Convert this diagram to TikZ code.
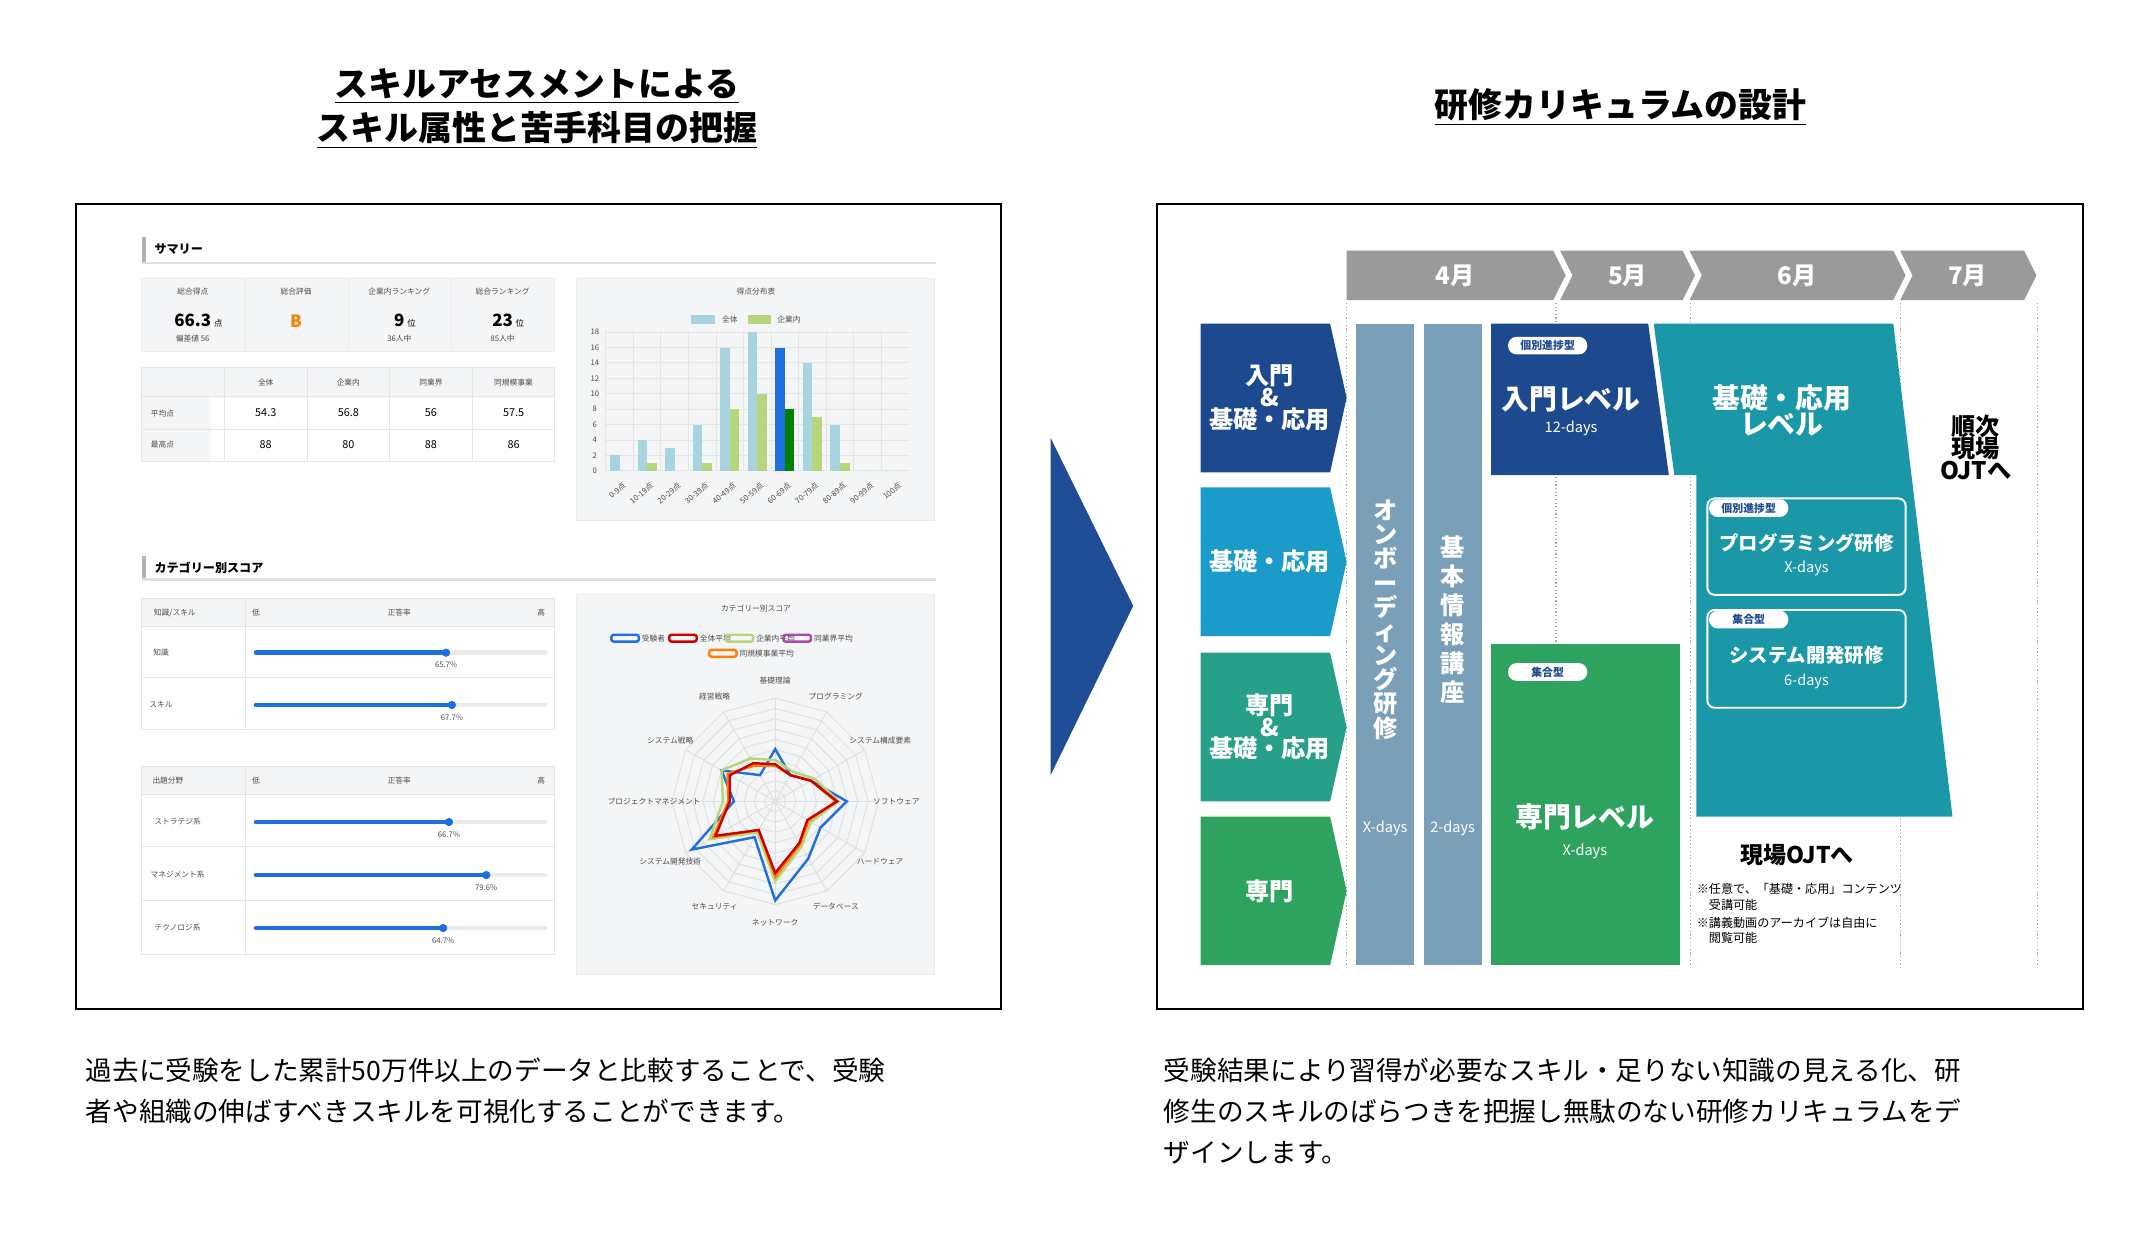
\documentclass[tikz,border=0pt]{standalone}
\usepackage{fontspec}
\setmainfont{Noto Sans CJK JP}
\usetikzlibrary{positioning}
\definecolor{navyC}{HTML}{1D4A8F}
\definecolor{skyC}{HTML}{1A9BC9}
\definecolor{tealC}{HTML}{1A98A8}
\definecolor{tgreenC}{HTML}{27A08A}
\definecolor{greenC}{HTML}{2EA35F}
\definecolor{barC}{HTML}{7A9FB8}
\definecolor{monthC}{HTML}{9A9A9A}
\definecolor{arrowC}{HTML}{1F4E96}
\definecolor{panelC}{HTML}{F4F5F6}
\definecolor{lblueC}{HTML}{A8D4E0}
\definecolor{lgreenC}{HTML}{B5D67A}
\definecolor{sliderC}{HTML}{1F6FE0}
\tikzstyle{ttl}=[font=\bfseries\fontsize{14}{20}\selectfont, align=center]
\tikzstyle{para}=[font=\fontsize{11}{17}\selectfont, align=left, anchor=north west, inner sep=0pt]
\tikzstyle{frame}=[draw=black, line width=0.8pt]
\tikzstyle{wlbl}=[text=white, font=\bfseries\fontsize{10}{13}\selectfont, align=center]
\tikzstyle{wsub}=[text=white, font=\fontsize{6}{8}\selectfont]
\tikzstyle{tagbox}=[fill=white, rounded corners=3.5pt, inner sep=1.5pt, minimum width=1.15cm, text=navyC, font=\bfseries\fontsize{4.5}{5}\selectfont]
\tikzstyle{vline}=[gray!70, densely dotted, line width=0.5pt]
\tikzstyle{tinylbl}=[font=\fontsize{3.2}{4}\selectfont, text=black!70, inner sep=0.5pt]
\tikzstyle{small}=[font=\fontsize{4.5}{5}\selectfont, inner sep=0.5pt]
\tikzstyle{card}=[fill=panelC, draw=black!8]
\def\wlbl{\node[style=wlbl]}
\def\tlbl{\node[style=tinylbl]}
\newcommand{\ptunit}[1]{\rlap{\,\fontsize{3.5}{4}\selectfont\mdseries #1}}
\newcommand{\catchev}[3]{\fill[#3] (872,#1) -- (966,#1) -- (978,{(#1+#2)/2}) -- (966,#2) -- (872,#2) -- cycle;}
\newcommand{\monthseg}[3]{\fill[monthC] (#1,182) -- (#2,182) -- ({#2+9},200) -- (#2,218) -- (#1,218) #3 -- cycle;}
\begin{document}
\begin{tikzpicture}[x=0.02cm, y=-0.02cm]
      \useasboundingbox (0,0) rectangle (1560,900);
      % titles
      \node[style=ttl] (Ltitle) at (390,79) {\underline{スキルアセスメントによる}\\[-2pt]\underline{スキル属性と苦手科目の把握}};
      \node[style=ttl] (Rtitle) at (1177,78) {\underline{研修カリキュラムの設計}};
      % frames
      \draw[style=frame] (55,148) rectangle (727,733);
      \draw[style=frame] (840,148) rectangle (1513,733);
      \fill[arrowC] (763,318) -- (823,440) -- (763,563) -- cycle;
      % captions
      \node[style=para] (Ltext) at (62,768) {過去に受験をした累計50万件以上のデータと比較することで、受験\\者や組織の伸ばすべきスキルを可視化することができます。};
      \node[style=para] (Rtext) at (845,768) {受験結果により習得が必要なスキル・足りない知識の見える化、研\\修生のスキルのばらつきを把握し無駄のない研修カリキュラムをデ\\ザインします。};

      % ---------- dashboard ----------
      \fill[gray!60] (103,172) rectangle (106,190);
      \draw[gray!25, line width=1.2pt] (103,191) -- (680,191);
      \node[style=small, anchor=west, font=\bfseries\fontsize{5}{6}\selectfont] (Dsum) at (111,181) {サマリー};
      \foreach \i/\lab/\val/\sub in {0/総合得点/66.3\ptunit{点}/偏差値 56, 1/総合評価/{\textcolor{orange}{B}}/, 2/企業内ランキング/9\ptunit{位}/36人中, 3/総合ランキング/23\ptunit{位}/85人中}{
        \draw[style=card] ({103+75*\i},202) rectangle ({178+75*\i},255);
        \tlbl (Dlab\i) at ({140+75*\i},212) {\lab};
        \node[font=\bfseries\fontsize{7}{8}\selectfont, inner sep=0pt] (Dval\i) at ({140+75*\i},233) {\val};
        \tlbl (Dsub\i) at ({140+75*\i},246) {\sub};
      }
      \fill[panelC] (103,267) rectangle (403,288);
      \fill[panelC] (103,288) rectangle (153,335);
      \draw[black!10] (103,267) rectangle (403,335) (103,288) -- (403,288) (103,312) -- (403,312);
      \foreach \i/\h/\a/\b in {0/全体/54.3/88, 1/企業内/56.8/80, 2/同業界/56/88, 3/同規模事業/57.5/86}{
        \draw[black!10] ({163+60*\i},267) -- ({163+60*\i},335);
        \tlbl (Th\i) at ({193+60*\i},278) {\h};
        \node[style=small] (Ta\i) at ({193+60*\i},300) {\a};
        \node[style=small] (Tb\i) at ({193+60*\i},323) {\b};
      }
      \tlbl (Tr0) at (118,300) {平均点};
      \tlbl (Tr1) at (118,323) {最高点};
      % histogram
      \draw[style=card] (419,202) rectangle (679,378);
      \tlbl (Hti) at (549,212) {得点分布表};
      \fill[lblueC] (502,229) rectangle (519,235); \tlbl (Hl1) at (530,232) {全体};
      \fill[lgreenC] (543,229) rectangle (560,235); \tlbl (Hl2) at (573,232) {企業内};
      \foreach \k in {0,2,...,18}{
        \draw[black!10] (440,{342-5.6*\k}) -- (660,{342-5.6*\k});
        \tlbl (Hy\k) at (432,{342-5.6*\k}) {\k};
      }
      \foreach \g/\all/\com/\lab in {0/2/0/0-9点, 1/4/1/10-19点, 2/3/0/20-29点, 3/6/1/30-39点, 4/16/8/40-49点, 5/18/10/50-59点, 6/16/8/60-69点, 7/14/7/70-79点, 8/6/1/80-89点, 9/0/0/90-99点, 10/0/0/100点}{
        \draw[black!10] ({440+20*\g},240) -- ({440+20*\g},342);
        \ifnum\g=6
          \fill[sliderC] ({443+20*\g},342) rectangle ({450+20*\g},{342-5.6*\all});
          \fill[green!50!black] ({450+20*\g},342) rectangle ({457+20*\g},{342-5.6*\com});
        \else
          \fill[lblueC] ({443+20*\g},342) rectangle ({450+20*\g},{342-5.6*\all});
          \fill[lgreenC] ({450+20*\g},342) rectangle ({457+20*\g},{342-5.6*\com});
        \fi
        \node[style=tinylbl, rotate=40, anchor=north east] (Hx\g) at ({452+20*\g},348) {\lab};
      }
      % category scores
      \fill[gray!60] (103,404) rectangle (106,421);
      \draw[gray!25, line width=1.2pt] (103,421) -- (680,421);
      \node[style=small, anchor=west, font=\bfseries\fontsize{5}{6}\selectfont] (Dcat) at (111,412) {カテゴリー別スコア};
      % slider table 1
      \fill[panelC] (103,435) rectangle (403,455);
      \draw[black!10] (103,435) rectangle (403,530) (178,435) -- (178,530) (103,455) -- (403,455) (103,492) -- (403,492);
      \tlbl (S1h) at (127,445) {知識/スキル}; \tlbl (S1l) at (186,445) {低}; \tlbl (S1m) at (290,445) {正答率}; \tlbl (S1r) at (393,445) {高};
      \foreach \i/\lab/\v in {0/知識/65.7, 1/スキル/67.7}{
        \tlbl (S1a\i) at (117,{474+38*\i}) {\lab};
        \draw[black!8, line width=2pt, line cap=round] (186,{474+38*\i}) -- (396,{474+38*\i});
        \draw[sliderC, line width=2pt, line cap=round] (186,{474+38*\i}) -- ({186+2.1*\v},{474+38*\i});
        \fill[sliderC] ({186+2.1*\v},{474+38*\i}) circle (3);
        \tlbl (S1v\i) at ({186+2.1*\v},{483+38*\i}) {\v\%};
      }
      % slider table 2
      \fill[panelC] (103,557) rectangle (403,577);
      \draw[black!10] (103,557) rectangle (403,693) (178,557) -- (178,693) (103,577) -- (403,577) (103,615) -- (403,615) (103,654) -- (403,654);
      \tlbl (S2h) at (122,567) {出題分野}; \tlbl (S2l) at (186,567) {低}; \tlbl (S2m) at (290,567) {正答率}; \tlbl (S2r) at (393,567) {高};
      \foreach \i/\lab/\v in {0/ストラテジ系/66.7, 1/マネジメント系/79.6, 2/テクノロジ系/64.7}{
        \tlbl (S2a\i) at (129,{597+38.5*\i}) {\lab};
        \draw[black!8, line width=2pt, line cap=round] (186,{597+38.5*\i}) -- (396,{597+38.5*\i});
        \draw[sliderC, line width=2pt, line cap=round] (186,{597+38.5*\i}) -- ({186+2.1*\v},{597+38.5*\i});
        \fill[sliderC] ({186+2.1*\v},{597+38.5*\i}) circle (3);
        \tlbl (S2v\i) at ({186+2.1*\v},{606+38.5*\i}) {\v\%};
      }
      % radar
      \draw[style=card] (419,432) rectangle (679,708);
      \tlbl (Rti) at (549,442) {カテゴリー別スコア};
      \foreach \c/\x/\lab in {sliderC/444/受験者, red!80!black/486/全体平均, lgreenC/527/企業内平均, violet!70/569/同業界平均}{
        \draw[\c, line width=1pt, rounded corners=1pt] (\x,461) rectangle ({\x+20},466);
        \node[style=tinylbl, anchor=west] at ({\x+21},463.5) {\lab};
      }
      \draw[orange, line width=1pt, rounded corners=1pt] (515,472) rectangle (535,477);
      \node[style=tinylbl, anchor=west] (Rleg) at (536,474.5) {同規模事業平均};
      \begin{scope}[shift={(563,582)}]
        \foreach \r in {7.5,15,...,75}{
          \draw[black!12] (-90:\r) \foreach \a in {-60,-30,...,240}{ -- (\a:\r)} -- cycle;
        }
        \foreach \a/\lab in {-90/基礎理論, -60/プログラミング, -30/システム構成要素, 0/ソフトウェア, 30/ハードウェア, 60/データベース, 90/ネットワーク, 120/セキュリティ, 150/システム開発技術, 180/プロジェクトマネジメント, 210/システム戦略, 240/経営戦略}{
          \draw[black!12] (0,0) -- (\a:75);
          \node[style=tinylbl] at (\a:88) {\lab};
        }
        \draw[sliderC, line width=1pt] (-90:38) -- (-60:22) -- (-30:30) -- (0:52) -- (30:38) -- (60:48) -- (90:72) -- (120:30) -- (150:70) -- (180:30) -- (210:45) -- (240:22) -- cycle;
        \draw[lgreenC, line width=1pt] (-90:30) -- (-60:25) -- (-30:33) -- (0:46) -- (30:30) -- (60:38) -- (90:58) -- (120:26) -- (150:55) -- (180:38) -- (210:45) -- (240:36) -- cycle;
        \draw[orange, line width=1pt] (-90:26) -- (-60:22) -- (-30:30) -- (0:44) -- (30:28) -- (60:36) -- (90:55) -- (120:24) -- (150:52) -- (180:34) -- (210:40) -- (240:30) -- cycle;
        \draw[red!80!black, line width=1pt] (-90:27) -- (-60:22) -- (-30:30) -- (0:45) -- (30:27) -- (60:35) -- (90:52) -- (120:24) -- (150:50) -- (180:33) -- (210:38) -- (240:32) -- cycle;
      \end{scope}

      % ---------- curriculum ----------
      \foreach \x in {978,1130,1228,1380,1480}{ \draw[style=vline] (\x,220) -- (\x,701); }
      \monthseg{978}{1128}{}
      \monthseg{1133}{1222}{-- (1142,200)}
      \monthseg{1227}{1375}{-- (1236,200)}
      \monthseg{1380}{1470}{-- (1389,200)}
      \node[text=white, font=\bfseries\fontsize{10}{12}\selectfont] (M4) at (1057,200) {4月};
      \node[text=white, font=\bfseries\fontsize{10}{12}\selectfont] (M5) at (1182,200) {5月};
      \node[text=white, font=\bfseries\fontsize{10}{12}\selectfont] (M6) at (1305,200) {6月};
      \node[text=white, font=\bfseries\fontsize{10}{12}\selectfont] (M7) at (1429,200) {7月};
      % categories
      \catchev{235}{343}{navyC}
      \catchev{354}{462}{skyC}
      \catchev{474}{582}{tgreenC}
      \catchev{593}{701}{greenC}
      \wlbl (C0) at (922,289) {入門\\[-4pt]\&\\[-4pt]基礎・応用};
      \wlbl (C1) at (922,408) {基礎・応用};
      \wlbl (C2) at (922,528) {専門\\[-4pt]\&\\[-4pt]基礎・応用};
      \wlbl (C3) at (922,647) {専門};
      % onboarding bars
      \fill[barC] (985,235) rectangle (1027,701);
      \fill[barC] (1034,235) rectangle (1076,701);
      \wlbl (B0) at (1006,450) {オ\\[-3pt]ン\\[-3pt]ボ\\[-3pt]ー\\[-3pt]デ\\[-3pt]ィ\\[-3pt]ン\\[-3pt]グ\\[-3pt]研\\[-3pt]修};
      \wlbl (B1) at (1055,450) {基\\[-1pt]本\\[-1pt]情\\[-1pt]報\\[-1pt]講\\[-1pt]座};
      \node[style=wsub] (B0d) at (1006,602) {X-days};
      \node[style=wsub] (B1d) at (1055,602) {2-days};
      % levels
      \fill[navyC] (1083,235) -- (1197,235) -- (1212,345) -- (1083,345) -- cycle;
      \node[style=tagbox] (T0) at (1124,251) {個別進捗型};
      \wlbl[font=\bfseries\fontsize{11.5}{14}\selectfont] (L0) at (1141,290) {入門レベル};
      \node[style=wsub] (L0d) at (1141,311) {12-days};
      \fill[tealC] (1201,235) -- (1375,235) -- (1418,593) -- (1232,593) -- (1232,345) -- (1216,345) -- cycle;
      \wlbl[font=\bfseries\fontsize{11.5}{14}\selectfont] (L1) at (1294,298) {基礎・応用\\[-3pt]レベル};
      \draw[white, line width=0.8pt, rounded corners=3pt] (1240,362) rectangle (1384,432);
      \node[style=tagbox] (T1) at (1270,369) {個別進捗型};
      \wlbl[font=\bfseries\fontsize{8}{10}\selectfont] (P1) at (1312,394) {プログラミング研修};
      \node[style=wsub] (P1d) at (1312,413) {X-days};
      \draw[white, line width=0.8pt, rounded corners=3pt] (1240,443) rectangle (1384,514);
      \node[style=tagbox] (T2) at (1270,450) {集合型};
      \wlbl[font=\bfseries\fontsize{8}{10}\selectfont] (P2) at (1312,476) {システム開発研修};
      \node[style=wsub] (P2d) at (1312,495) {6-days};
      \fill[greenC] (1083,468) rectangle (1220,701);
      \node[style=tagbox] (T3) at (1124,488) {集合型};
      \wlbl[font=\bfseries\fontsize{11.5}{14}\selectfont] (L2) at (1151,593) {専門レベル};
      \node[style=wsub] (L2d) at (1151,618) {X-days};
      % OJT
      \node[font=\bfseries\fontsize{9.5}{12}\selectfont] (O1) at (1305,621) {現場OJTへ};
      \node[font=\fontsize{5}{6.5}\selectfont, align=left, anchor=north west, inner sep=0pt] (O1n) at (1232,641) {※任意で、「基礎・応用」コンテンツ\\\hspace{1em}受講可能\\[1pt]※講義動画のアーカイブは自由に\\\hspace{1em}閲覧可能};
      \node[font=\bfseries\fontsize{10}{12}\selectfont, align=center] (O2) at (1435,325) {順次\\[-3pt]現場\\[-3pt]OJTへ};
\end{tikzpicture}
\end{document}
